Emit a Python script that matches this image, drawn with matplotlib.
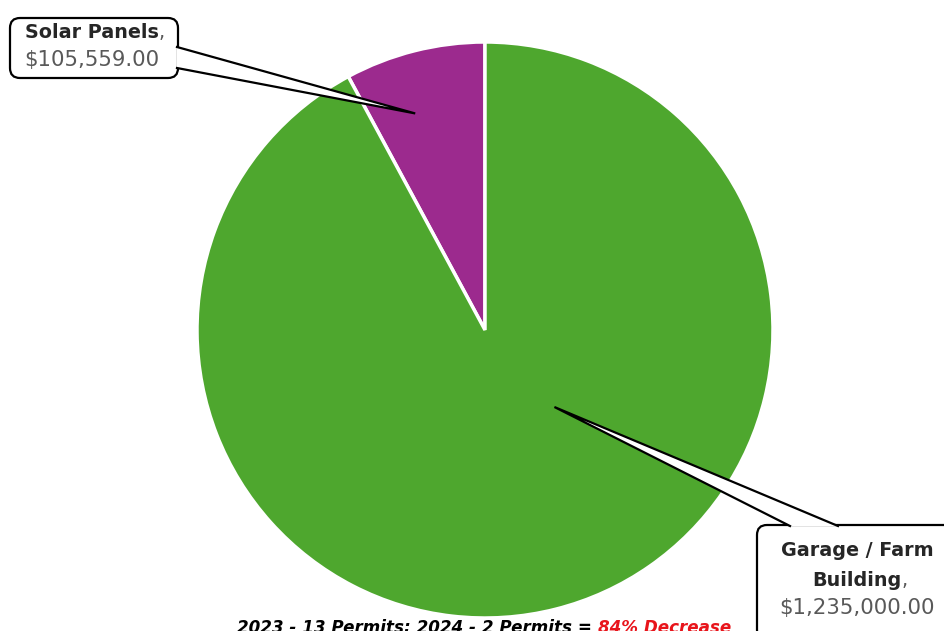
import matplotlib
matplotlib.use("Agg")
import matplotlib.pyplot as plt
import numpy as np
from matplotlib.patches import FancyBboxPatch, Polygon

# Permit values by project type
categories = ["Solar Panels", "Garage / Farm\nBuilding"]
values = [105559.00, 1235000.00]
colors = ["#9C2A8E", "#4EA72E"]
value_labels = ["$105,559.00", "$1,235,000.00"]

title_text = "Commercial & Residential Permits, $1,340,559.00"
footer_black = "2023 - 13 Permits; 2024 - 2 Permits = "
footer_red = "84% Decrease"

W, H = 944, 631
fig = plt.figure(figsize=(W / 100, H / 100), dpi=100)
ax = fig.add_axes([0, 0, 1, 1])
ax.set_axis_off()

cx, cy, r = 485, H - 330, 288
wedges, _ = ax.pie(values, colors=colors, startangle=90, counterclock=True,
                   center=(cx, cy), radius=r, frame=True,
                   wedgeprops=dict(edgecolor="white", linewidth=2.5))
ax.set_xlim(0, W)
ax.set_ylim(0, H)
ax.set_aspect("equal")
ax.set_axis_off()

label_font = "DejaVu Sans"
gray = "#595959"
name_size = 13.8
value_size = 15.3


def wedge_point(w, frac_angle, frac_r):
    ang = np.deg2rad(w.theta1 + (w.theta2 - w.theta1) * frac_angle)
    return cx + frac_r * r * np.cos(ang), cy + frac_r * r * np.sin(ang)


def callout(box, tail_base, tip, lines):
    x0, y0, x1, y1 = box
    patch = FancyBboxPatch((x0, y0), x1 - x0, y1 - y0,
                           boxstyle="round,pad=0,rounding_size=10",
                           fc="white", ec="black", lw=1.6, zorder=5)
    ax.add_patch(patch)
    (ax_, ay_), (bx_, by_) = tail_base
    tri = Polygon([(ax_, ay_), tip, (bx_, by_)], closed=True,
                  fc="white", ec="none", zorder=6)
    ax.add_patch(tri)
    ax.plot([ax_, tip[0], bx_], [ay_, tip[1], by_], color="black", lw=1.6,
            zorder=7, solid_joinstyle="miter")
    for (txt_main, txt_comma, txt_val, ycen, xcen) in lines:
        if txt_main is not None:
            t = ax.text(xcen, ycen, txt_main, fontsize=name_size,
                        fontweight="bold", family=label_font,
                        color="#262626", ha="center", va="center", zorder=8)
            if txt_comma:
                ax.annotate(",", xy=(1, 0), xycoords=t, xytext=(0, 0),
                            textcoords="offset points", fontsize=name_size,
                            family=label_font, color=gray, va="bottom",
                            zorder=8)
        if txt_val is not None:
            ax.text(xcen, ycen, txt_val, fontsize=value_size,
                    family=label_font, color=gray, ha="center",
                    va="center", zorder=8)


# Solar panels callout (upper left)
tip1 = wedge_point(wedges[0], 0.63, 0.79)
callout((10, H - 78, 178, H - 18),
        ((177, H - 47), (177, H - 68)), tip1,
        [("Solar Panels", True, None, H - 33, 92),
         (None, False, value_labels[0], H - 60, 92)])

# Garage / farm building callout (lower right)
tip2 = wedge_point(wedges[1], 0.584, 0.36)
callout((757, H - 640, 958, H - 525),
        ((790, H - 526), (838, H - 526)), tip2,
        [("Garage / Farm", False, None, H - 551, 857),
         ("Building", True, None, H - 580, 857),
         (None, False, value_labels[1], H - 608, 857)])

# Title, mostly above the visible area
ax.text(cx + 55, H + 7, title_text, fontsize=16, fontweight="bold",
        fontstyle="italic", family="Open Sans", color="#1F1F8F",
        ha="center", va="baseline", zorder=9, clip_on=False)

# Footer line
footer_size = 12.1
ft = ax.text(237, H - 619, footer_black, fontsize=footer_size,
             fontweight="bold", fontstyle="italic", family="DejaVu Sans",
             color="black", ha="left", va="top", zorder=9)
ax.annotate(footer_red, xy=(1, 0), xycoords=ft, xytext=(0, 0),
            textcoords="offset points", fontsize=footer_size,
            fontweight="bold", fontstyle="italic", family="DejaVu Sans",
            color="#E8141B", va="bottom", zorder=9)

fig.savefig("out.png", dpi=100)
